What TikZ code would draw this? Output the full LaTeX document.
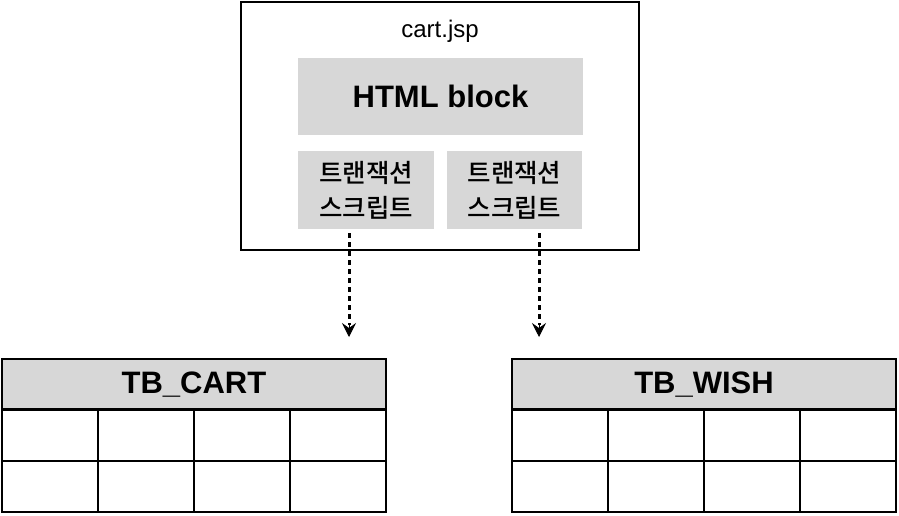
\documentclass[tikz,border=0pt]{standalone}
\usepackage{fontspec}
\setmainfont{Liberation Sans}
\newfontfamily\kr{Noto Sans CJK KR Medium}
\usetikzlibrary{arrows.meta}
\definecolor{boxgray}{RGB}{215,215,215}
\begin{document}
\begin{tikzpicture}[x=1pt,y=-1pt,
  gbox/.style={fill=boxgray,draw=none,inner sep=0pt},
  krtext/.style={font=\kr\fontsize{25.5}{35}\selectfont,align=center},
  conn/.style={line width=3pt,dash pattern=on 5pt off 4pt},
  tipstyle/.style={line width=1pt,solid,-{Stealth[length=14pt,width=14pt,inset=5pt]}},
  cellline/.style={line width=1.2pt}]
\useasboundingbox (0,0) rectangle (899,515);
% outer box
\draw[line width=1.5pt] (241,2) rectangle (639,250);
\node[font=\fontsize{24}{28}\selectfont] (jsp) at (440,31) {cart.jsp};
\node[gbox,minimum width=285pt,minimum height=77pt,font=\fontsize{31}{36}\selectfont\bfseries] (html) at (440.5,96.5) {HTML block};
\node[gbox,krtext,minimum width=136pt,minimum height=78pt] (ts1) at (366,190) {트랜잭션\\스크립트};
\node[gbox,krtext,minimum width=135pt,minimum height=78pt] (ts2) at (514.5,190) {트랜잭션\\스크립트};
% tables
\foreach \tx/\name/\lab in {2/cart/TB\_CART, 512/wish/TB\_WISH}{
  \fill[boxgray] (\tx,359) rectangle (\tx+384,409);
  \node[font=\fontsize{31}{36}\selectfont\bfseries] (\name) at (\tx+192,385) {\lab};
  \draw[cellline] (\tx,359) rectangle (\tx+384,512);
  \draw[line width=3pt] (\tx,409) -- (\tx+384,409);
  \draw[cellline] (\tx,461) -- (\tx+384,461);
  \foreach \c in {1,2,3}{ \draw[cellline] (\tx+96*\c,409) -- (\tx+96*\c,512); }
}
\coordinate (t1) at (349,337);
\coordinate (t2) at (539,337);
\coordinate (m1) at (349,325);
\coordinate (m2) at (539,325);
\draw[conn] (ts1.south -| t1) ++(0,4) -- (m1);
\draw[conn] (ts2.south -| t2) ++(0,4) -- (m2);
\draw[tipstyle] (m1) -- (t1);
\draw[tipstyle] (m2) -- (t2);
\end{tikzpicture}
\end{document}
